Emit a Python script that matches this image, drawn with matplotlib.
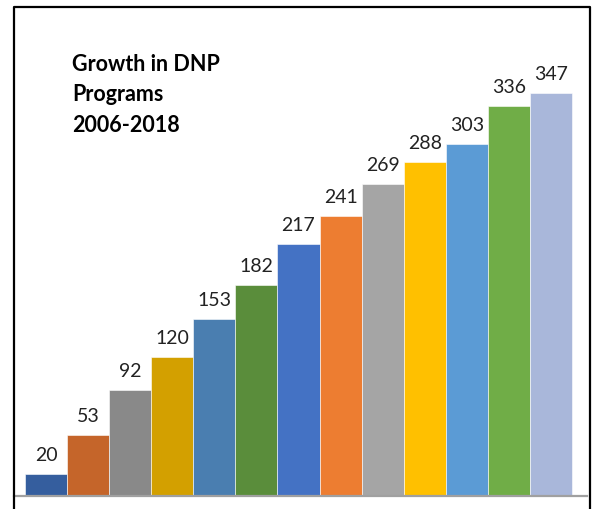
import matplotlib
matplotlib.use("Agg")
import matplotlib.pyplot as plt
from matplotlib.lines import Line2D

# Data
years = list(range(2006, 2019))
programs = [20, 53, 92, 120, 153, 182, 217, 241, 269, 288, 303, 336, 347]
bar_colors = [
    "#355E9E", "#C5652A", "#898989", "#D3A000", "#4A7EB0", "#5A8D3B", "#4472C4",
    "#ED7D31", "#A5A5A5", "#FFC000", "#5B9BD5", "#70AD47", "#A9B7DA",
]
title_lines = ["Growth in DNP", "Programs", "2006-2018"]

plt.rcParams["font.family"] = ["Lato", "DejaVu Sans"]

W, H = 592, 510
fig = plt.figure(figsize=(W / 100, H / 100), dpi=100)

# axes placed in pixel coordinates of the reference
left_px, right_px, top_px, bottom_px = 14, 587, 8, 497
ax = fig.add_axes([left_px / W, (H - bottom_px) / H,
                   (right_px - left_px) / W, (bottom_px - top_px) / H])

x = list(range(len(programs)))
ax.bar(x, programs, width=1.0, color=bar_colors, edgecolor="white", linewidth=0.4)

for xi, v in zip(x, programs):
    ax.annotate(str(v), (xi, v), xytext=(0, 8), textcoords="offset points",
                ha="center", va="bottom", fontsize=14, color="#222222")

px_per_bar = (572 - 25) / len(programs)
ax.set_xlim(-0.5 - (25 - left_px) / px_per_bar, len(programs) - 0.5 + (right_px - 572) / px_per_bar)
ax.set_ylim(1, 1 + (bottom_px - top_px) / 1.165)

for side in ["top", "right", "left"]:
    ax.spines[side].set_visible(False)
ax.spines["bottom"].set_color("#A0A0A0")
ax.spines["bottom"].set_linewidth(1.6)
ax.set_xticks([])
ax.set_yticks([])
ax.patch.set_alpha(0)

fig.text(72 / W, 1 - 54 / H, "\n".join(title_lines), ha="left", va="top",
         fontsize=15.5, fontweight="bold", linespacing=1.55, color="black")

# black frame around the chart (open at the bottom edge of the crop)
frame_x = [14 / W, 14 / W, 590 / W, 590 / W]
frame_y = [0, 1 - 8 / H, 1 - 8 / H, 0]
fig.add_artist(Line2D(frame_x, frame_y, transform=fig.transFigure,
                      color="black", linewidth=1.6))

fig.savefig("out.png", dpi=100)
